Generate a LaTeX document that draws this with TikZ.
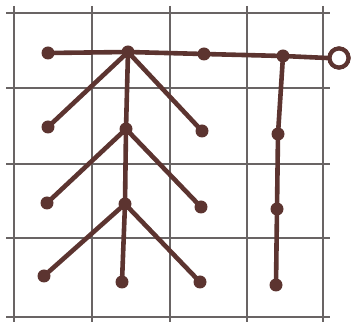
\documentclass[tikz,border=0pt]{standalone}
\definecolor{rodc}{RGB}{92,52,48}
\definecolor{gridc}{RGB}{105,100,100}
\begin{document}
\begin{tikzpicture}[x=1pt,y=-1pt,
  gridline/.style={draw=gridc, line width=1.5pt},
  rod/.style={draw=rodc, line width=4.6pt, line cap=round},
  knob/.style={circle, fill=rodc, inner sep=0pt, minimum size=13pt},
  eye/.style={circle, draw=rodc, line width=4.2pt, inner sep=0pt, minimum size=19pt, fill=white}]
\useasboundingbox (0,0) rectangle (357,331);
% grid
\foreach \x in {14,92,170,247,323} \draw[gridline] (\x,6) -- (\x,322);
\foreach \y in {13,88,164,238,317} \draw[gridline] (6,\y) -- (330,\y);
% nodes
\node[knob] (l0) at (48,53) {};
\node[knob] (h1) at (128,52) {};
\node[knob] (m1) at (204,54) {};
\node[knob] (r0) at (283,56) {};
\node[eye]  (ey) at (339,58) {};
\node[knob] (l1) at (48,127) {};
\node[knob] (b1) at (202,131) {};
\node[knob] (h2) at (126,129) {};
\node[knob] (l2) at (47,203) {};
\node[knob] (b2) at (201,207) {};
\node[knob] (h3) at (125,204) {};
\node[knob] (l3) at (44,276) {};
\node[knob] (b3) at (200,282) {};
\node[knob] (t3) at (122,282) {};
\node[knob] (r1) at (278,134) {};
\node[knob] (r2) at (277,209) {};
\node[knob] (r3) at (276,285) {};
% rods
\draw[rod] (l0) -- (h1) -- (m1) -- (r0) -- (ey.west);
\draw[rod] (h1) -- (h2) -- (h3) -- (t3);
\draw[rod] (h1) -- (l1);
\draw[rod] (h1) -- (b1);
\draw[rod] (h2) -- (l2);
\draw[rod] (h2) -- (b2);
\draw[rod] (h3) -- (l3);
\draw[rod] (h3) -- (b3);
\draw[rod] (r0) -- (r1) -- (r2) -- (r3);
\node[eye] at (ey) {};
\end{tikzpicture}
\end{document}
